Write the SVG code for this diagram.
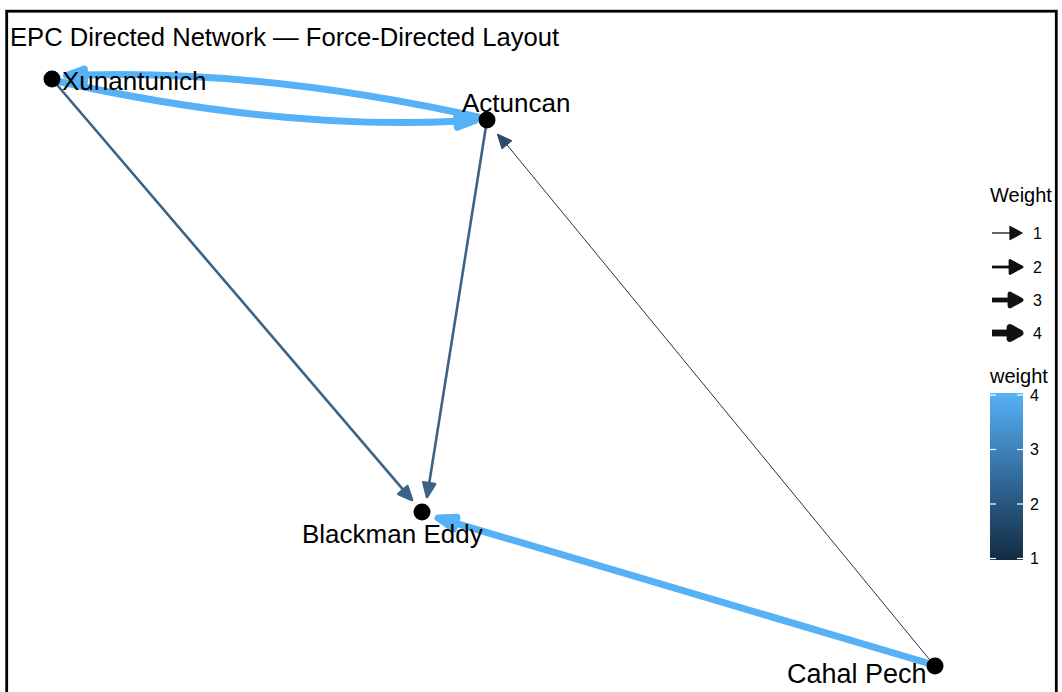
<svg xmlns="http://www.w3.org/2000/svg" width="1062" height="692" viewBox="0 0 1062 692">
  <defs>
    <style>
      text { font-family: "Liberation Sans", Arial, sans-serif; fill: #000; }
      .title { font-size: 25.6px; }
      .lbl { font-size: 26px; }
      .legt { font-size: 20px; }
      .legn { font-size: 16px; }
      .w4 { stroke: #56B1F7; stroke-width: 7; fill: none; stroke-linecap: round; }
      .w4h { fill: #56B1F7; stroke: #56B1F7; stroke-width: 7; stroke-linejoin: round; }
      .w2 { stroke: #3C6386; stroke-width: 2.6; fill: none; }
      .w2h { fill: #3C6386; stroke: #3C6386; stroke-width: 2.6; stroke-linejoin: round; }
      .w1 { stroke: #1E3550; stroke-width: 1; fill: none; }
      .w1h { fill: #2E4A68; stroke: #2E4A68; stroke-width: 1; stroke-linejoin: round; }
      .node { fill: #000; }
      .lg { stroke: #111; fill: none; }
      .lgh { fill: #111; stroke: #111; stroke-linejoin: round; }
      .tick { stroke: #fff; stroke-width: 1.2; }
    </style>
    <linearGradient id="cbar" x1="0" y1="0" x2="0" y2="1">
      <stop offset="0" stop-color="#56B1F7"/>
      <stop offset="0.5" stop-color="#336C9C"/>
      <stop offset="1" stop-color="#132B43"/>
    </linearGradient>
    <clipPath id="frame">
      <rect x="0" y="0" width="1055" height="692"/>
    </clipPath>
  </defs>

  <rect x="0" y="0" width="1062" height="692" fill="#fff"/>

  <text class="title" x="10" y="46">EPC Directed Network — Force-Directed Layout</text>

  <g id="connectors">
    <!-- Xunantunich -> Actuncan (lower curve, weight 4) -->
    <path class="w4" d="M52,80 Q275,130 457,121.3"/>
    <polygon class="w4h" points="475,120.5 457.3,127.3 456.7,115.3"/>
    <!-- Actuncan -> Xunantunich (upper curve, weight 4) -->
    <path class="w4" d="M487,119 Q270,70 84.5,75"/>
    <polygon class="w4h" points="66.5,75.5 84.3,69 84.7,81"/>
    <!-- Xunantunich -> Blackman Eddy (weight 2) -->
    <path class="w2" d="M52,79 L402.9,489.4"/>
    <polygon class="w2h" points="412,500 398.3,494 407.4,486.2"/>
    <!-- Actuncan -> Blackman Eddy (weight 2) -->
    <path class="w2" d="M487,120 L429.2,483.2"/>
    <polygon class="w2h" points="427,497 435.1,484.1 423.3,482.2"/>
    <!-- Cahal Pech -> Actuncan (weight 1) -->
    <path class="w1" d="M934,665 L506.9,144.8"/>
    <polygon class="w1h" points="497.3,134 511.9,140.7 502.0,148.9"/>
    <!-- Cahal Pech -> Blackman Eddy (weight 4) -->
    <path class="w4" d="M934,665 L455.3,523.1"/>
    <polygon class="w4h" points="438,518 457,517.3 453.6,528.9"/>
  </g>

  <g id="node-xunantunich">
    <circle class="node" cx="52" cy="79" r="8.5"/>
    <text class="lbl" x="62" y="90">Xunantunich</text>
  </g>
  <g id="node-actuncan">
    <circle class="node" cx="487" cy="120" r="8.5"/>
    <text class="lbl" x="462" y="112">Actuncan</text>
  </g>
  <g id="node-blackman-eddy">
    <circle class="node" cx="422" cy="512" r="8.5"/>
    <text class="lbl" x="302" y="543">Blackman Eddy</text>
  </g>
  <g id="node-cahal-pech">
    <circle class="node" cx="935" cy="666" r="8.5"/>
    <text class="lbl" x="787" y="683" style="font-size:27px">Cahal Pech</text>
  </g>

  <g id="legend" clip-path="url(#frame)">
    <text class="legt" x="990" y="202">Weight</text>
    <line class="lg" x1="992" y1="233" x2="1011" y2="233" stroke-width="1.3"/>
    <polygon class="lgh" points="1022,233 1010,226.5 1010,239.5" stroke-width="1.3"/>
    <text class="legn" x="1033" y="239">1</text>
    <line class="lg" x1="992" y1="267" x2="1011" y2="267" stroke-width="2.8"/>
    <polygon class="lgh" points="1022,267 1010,260.5 1010,273.5" stroke-width="2.8"/>
    <text class="legn" x="1033" y="273">2</text>
    <line class="lg" x1="992" y1="300" x2="1011" y2="300" stroke-width="4.8"/>
    <polygon class="lgh" points="1021,300 1010,294 1010,306" stroke-width="4.8"/>
    <text class="legn" x="1033" y="306">3</text>
    <line class="lg" x1="992" y1="333" x2="1011" y2="333" stroke-width="6.8"/>
    <polygon class="lgh" points="1020,333 1010,327.5 1010,338.5" stroke-width="6.8"/>
    <text class="legn" x="1033" y="339">4</text>

    <text class="legt" x="990" y="383">weight</text>
    <rect x="990" y="393" width="33" height="167" fill="url(#cbar)"/>
    <line class="tick" x1="990" y1="395" x2="996" y2="395"/>
    <line class="tick" x1="1017" y1="395" x2="1023" y2="395"/>
    <line class="tick" x1="990" y1="449.5" x2="996" y2="449.5"/>
    <line class="tick" x1="1017" y1="449.5" x2="1023" y2="449.5"/>
    <line class="tick" x1="990" y1="504" x2="996" y2="504"/>
    <line class="tick" x1="1017" y1="504" x2="1023" y2="504"/>
    <line class="tick" x1="990" y1="558.5" x2="996" y2="558.5"/>
    <line class="tick" x1="1017" y1="558.5" x2="1023" y2="558.5"/>
    <text class="legn" x="1030" y="401">4</text>
    <text class="legn" x="1030" y="455">3</text>
    <text class="legn" x="1030" y="510">2</text>
    <text class="legn" x="1030" y="564">1</text>
  </g>

  <rect x="6.7" y="11.2" width="1049.6" height="700" fill="none" stroke="#000" stroke-width="2.8"/>
</svg>
